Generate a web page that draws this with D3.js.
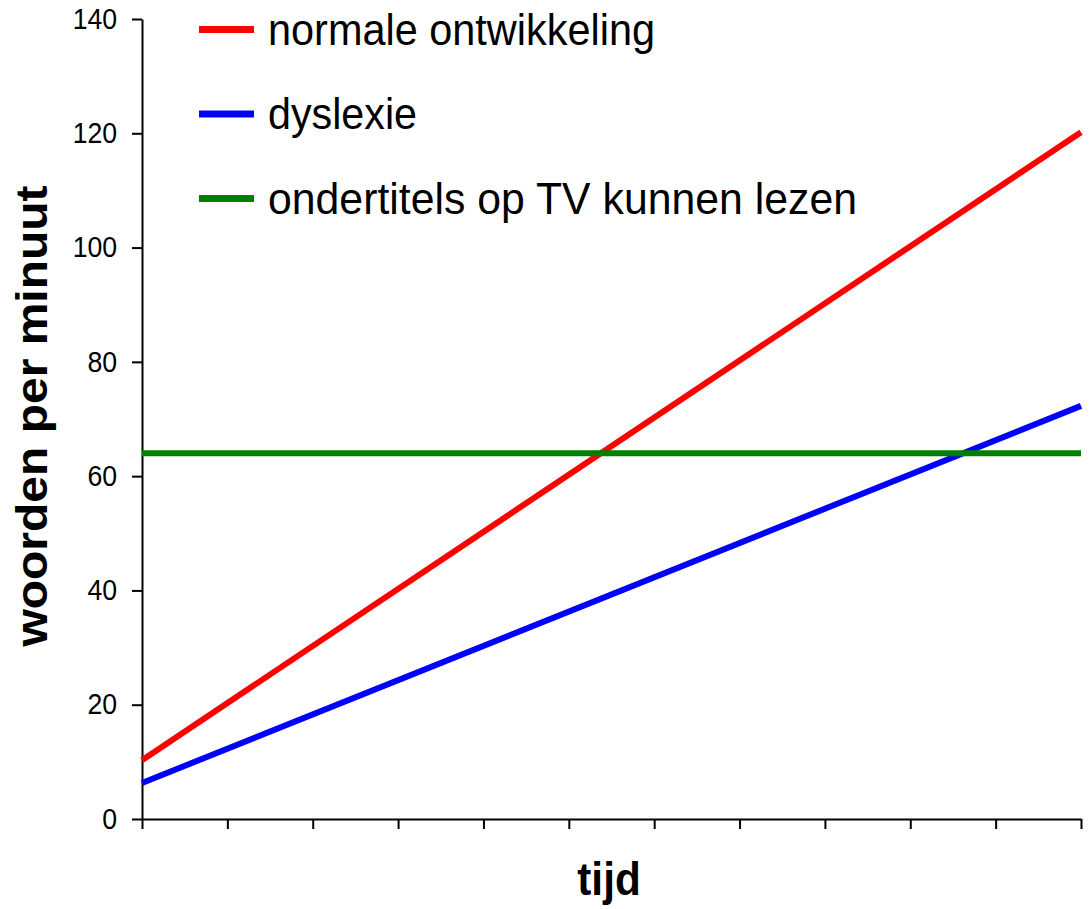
<!DOCTYPE html>
<html>
<head>
<meta charset="utf-8">
<script src="https://cdn.jsdelivr.net/npm/d3@7"></script>
<style>
  body { margin: 0; background: #fff; }
  svg { display: block; font-family: "Liberation Sans", Arial, sans-serif; }
</style>
</head>
<body>
<svg width="1089" height="909"></svg>
<script>
// data
var tijd = [0, 11];                 // x positions (first and last tick)
var normaleOntwikkeling = [10.3, 120.2];
var dyslexie = [6.3, 72.3];
var ondertitels = [64, 64];

var xTickValues = [0, 1, 2, 3, 4, 5, 6, 7, 8, 9, 10, 11];
var yTickValues = [0, 20, 40, 60, 80, 100, 120, 140];

var seriesNames = ["normale ontwikkeling", "dyslexie", "ondertitels op TV kunnen lezen"];
var seriesColors = ["#ff0000", "#0000ff", "#008000"];
var seriesValues = [normaleOntwikkeling, dyslexie, ondertitels];

// the original picture is squeezed a bit horizontally, text too
var squeeze = 0.92;
// legend text widths as measured on the picture
var legendTextWidths = [387, 149, 589];

var svg = d3.select("svg");

var x = d3.scaleLinear().domain([0, 11]).range([142, 1081]);
var y = d3.scaleLinear().domain([0, 140]).range([819, 19]);

// y axis
var yAxis = svg.append("g")
    .attr("transform", "translate(142,0)")
    .call(d3.axisLeft(y).tickValues(yTickValues).tickSize(10).tickSizeOuter(0).tickPadding(17));
yAxis.selectAll("text")
    .attr("font-size", 29)
    .attr("font-family", "Liberation Sans, Arial, sans-serif")
    .attr("fill", "#000")
    .attr("transform", "scale(" + squeeze + ",1)");

// x axis, ticks only
var xAxis = svg.append("g")
    .attr("transform", "translate(0,819)")
    .call(d3.axisBottom(x).tickValues(xTickValues).tickSize(10).tickSizeOuter(0).tickFormat(""));

svg.selectAll(".domain, .tick line")
    .attr("stroke", "#000")
    .attr("stroke-width", 2);

// series lines
var line = d3.line()
    .x(function(d, i) { return x(tijd[i]); })
    .y(function(d) { return y(d); });

seriesValues.forEach(function(vals, i) {
    svg.append("path")
        .datum(vals)
        .attr("d", line)
        .attr("fill", "none")
        .attr("stroke", seriesColors[i])
        .attr("stroke-width", 6);
});

// legend
var legend = svg.append("g");
seriesNames.forEach(function(name, i) {
    var ly = 29.5 + i * 84.5;
    legend.append("line")
        .attr("x1", 199).attr("x2", 254)
        .attr("y1", ly).attr("y2", ly)
        .attr("stroke", seriesColors[i])
        .attr("stroke-width", 7);
    legend.append("text")
        .attr("x", 268)
        .attr("y", ly + 15)
        .attr("font-size", 45)
        .attr("fill", "#000")
        .attr("textLength", legendTextWidths[i])
        .attr("lengthAdjust", "spacingAndGlyphs")
        .text(name);
});

// axis titles
svg.append("text")
    .attr("transform", "translate(609,895) scale(" + squeeze + ",1)")
    .attr("text-anchor", "middle")
    .attr("font-size", 46)
    .attr("font-weight", "bold")
    .text("tijd");

svg.append("text")
    .attr("transform", "translate(47,416) scale(" + squeeze + ",1) rotate(-90)")
    .attr("text-anchor", "middle")
    .attr("font-size", 48)
    .attr("font-weight", "bold")
    .text("woorden per minuut");
</script>
</body>
</html>
